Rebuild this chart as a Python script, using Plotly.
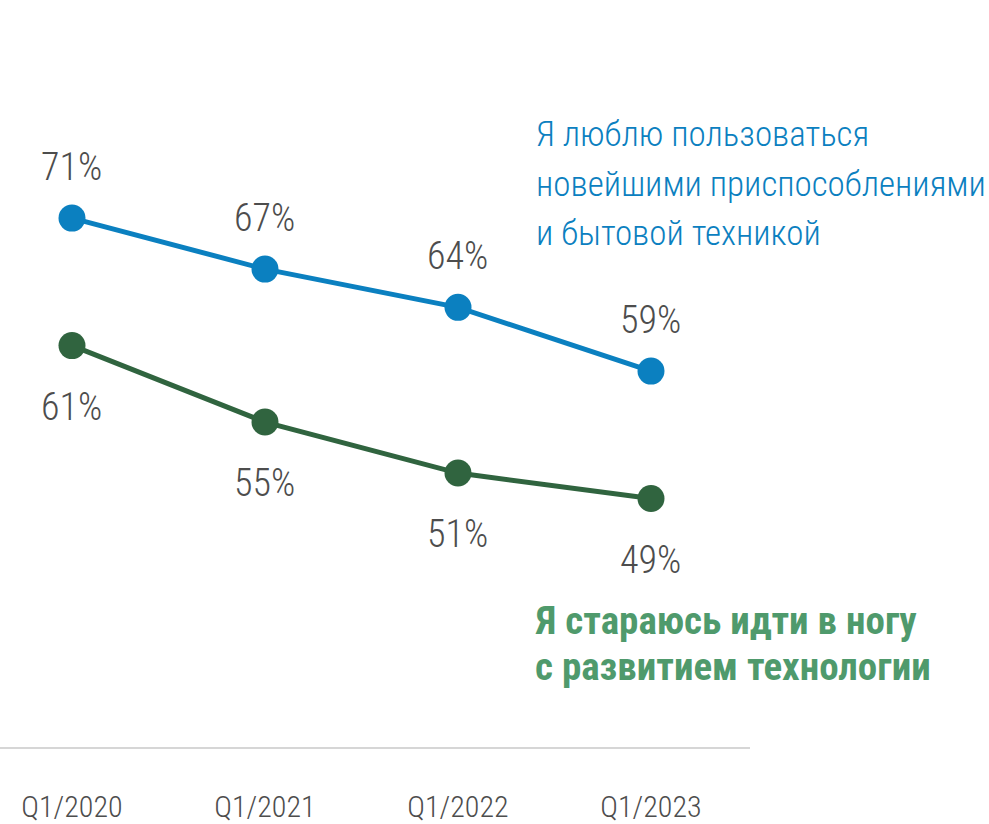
import plotly.graph_objects as go

quarters = ["Q1/2020", "Q1/2021", "Q1/2022", "Q1/2023"]
love_gadgets = [71, 67, 64, 59]
keep_up_tech = [61, 55, 51, 49]
love_lines = ["Я люблю пользоваться", "новейшими приспособлениями", "и бытовой техникой"]
keep_lines = ["Я стараюсь идти в ногу", "с развитием технологии"]

BLUE = "#0b80c0"
DGREEN = "#30643f"
LGREEN = "#4f9a6c"
TXT = "#4d4d4d"
FONT = "Roboto Condensed"

fig = go.Figure()
fig.add_trace(go.Scatter(x=quarters, y=love_gadgets, mode="lines+markers",
                         line=dict(color=BLUE, width=5), marker=dict(size=27, color=BLUE),
                         hoverinfo="skip", showlegend=False))
fig.add_trace(go.Scatter(x=quarters, y=keep_up_tech, mode="lines+markers",
                         line=dict(color=DGREEN, width=5), marker=dict(size=27, color=DGREEN),
                         hoverinfo="skip", showlegend=False))

anns = []
for q, v in zip(quarters, love_gadgets):
    anns.append(dict(x=q, y=v, xref="x", yref="y", text=f"{v}%", showarrow=False,
                     yshift=51, font=dict(family=FONT, size=38, color=TXT, weight=300)))
for q, v in zip(quarters, keep_up_tech):
    anns.append(dict(x=q, y=v, xref="x", yref="y", text=f"{v}%", showarrow=False,
                     yshift=-61, font=dict(family=FONT, size=38, color=TXT, weight=300)))
for txt, yp in zip(love_lines, [0.8205, 0.7525, 0.6880]):
    anns.append(dict(x=0.712, y=yp, xref="paper", yref="paper", xanchor="left", yanchor="middle",
                     align="left", text=txt, showarrow=False,
                     font=dict(family=FONT, size=35, color=BLUE, weight=300)))
for txt, yp in zip(keep_lines, [0.169, 0.107]):
    anns.append(dict(x=0.710, y=yp, xref="paper", yref="paper", xanchor="left", yanchor="middle",
                     align="left", text=txt, showarrow=False,
                     font=dict(family=FONT, size=39, color=LGREEN, weight=700)))

fig.update_layout(
    width=989, height=824,
    margin=dict(l=0, r=239, t=0, b=77, autoexpand=False),
    paper_bgcolor="white", plot_bgcolor="white",
    annotations=anns,
    xaxis=dict(type="category", range=[-0.373, 3.513], showgrid=False, zeroline=False,
               showline=True, linecolor="#d6d6d6", linewidth=2,
               ticks="outside", ticklen=32, tickcolor="rgba(0,0,0,0)",
               tickfont=dict(family=FONT, size=30, color=TXT, weight=300)),
    yaxis=dict(range=[29.51, 88.11], visible=False, showgrid=False, zeroline=False),
)
fig.write_html("out.html", config={"displayModeBar": False},
               post_script="document.body.style.margin='0px';")
